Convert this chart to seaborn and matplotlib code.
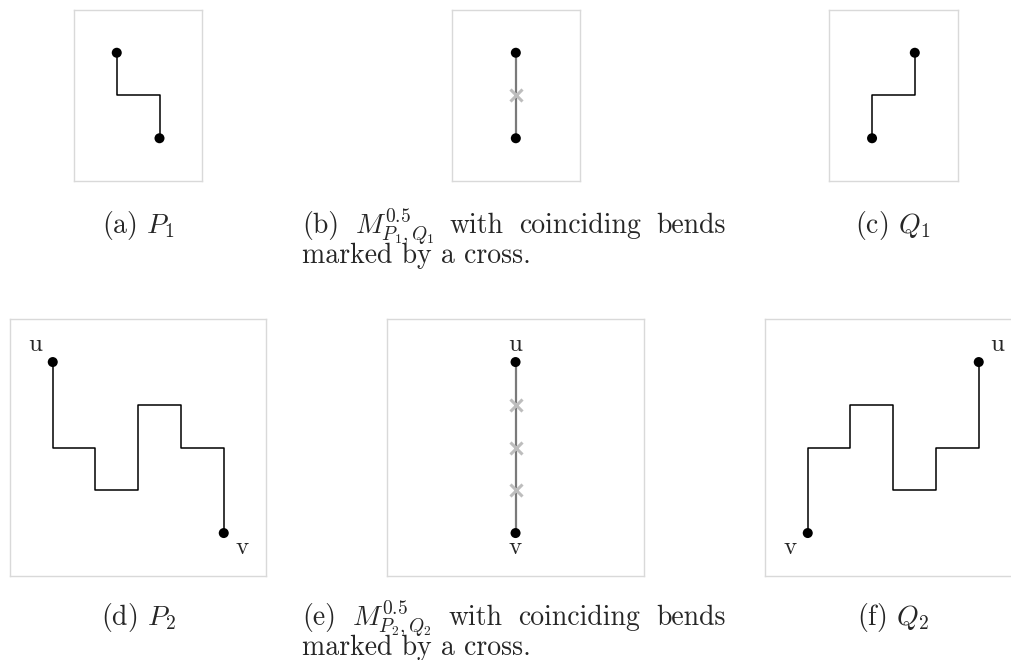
import matplotlib
matplotlib.use("Agg")
import matplotlib.pyplot as plt
import seaborn as sns

# ---------------- data ----------------
p1_x = [1, 1, 2, 2]
p1_y = [3, 2, 2, 1]
m1_x = [1.5, 1.5]
m1_y = [3, 1]
m1_cross_x = [1.5]
m1_cross_y = [2]
q1_x = [1, 1, 2, 2]
q1_y = [1, 2, 2, 3]

p2_x = [1, 1, 2, 2, 3, 3, 4, 4, 5, 5]
p2_y = [5, 3, 3, 2, 2, 4, 4, 3, 3, 1]
m2_x = [3, 3]
m2_y = [5, 1]
m2_cross_x = [3, 3, 3]
m2_cross_y = [4, 3, 2]
q2_x = [1, 1, 2, 2, 3, 3, 4, 4, 5, 5]
q2_y = [1, 3, 3, 4, 4, 2, 2, 3, 3, 5]

cap_a = r"(a) $P_1$"
cap_c = r"(c) $Q_1$"
cap_d = r"(d) $P_2$"
cap_f = r"(f) $Q_2$"
cap_b = ["(b)", r"$M^{0.5}_{P_1,Q_1}$", "with", "coinciding", "bends", "marked by a cross."]
cap_e = ["(e)", r"$M^{0.5}_{P_2,Q_2}$", "with", "coinciding", "bends", "marked by a cross."]

# ---------------- style ----------------
sns.set_theme(style="white")
plt.rcParams['font.family'] = ['cmr10', 'DejaVu Serif']
plt.rcParams['mathtext.fontset'] = 'cm'
plt.rcParams['axes.unicode_minus'] = False

W, H = 1012, 660
fig = plt.figure(figsize=(W / 100, H / 100), dpi=100)
fig.patch.set_facecolor('white')
R = fig.canvas.get_renderer()

U = 42.75  # pixels per grid unit


def add_box(left, top, nx, ny):
    ax = fig.add_axes([left / W, 1 - (top + ny * U) / H, nx * U / W, ny * U / H])
    ax.set_xticks([])
    ax.set_yticks([])
    for s in ax.spines.values():
        s.set_color('#d9d9d9')
        s.set_linewidth(1.0)
    ax.set_facecolor('white')
    return ax


def finish(ax, nx, ny):
    ax.set_xlim(0, nx)
    ax.set_ylim(0, ny)
    ax.set_xlabel("")
    ax.set_ylabel("")


def path(ax, xs, ys, color='black', lw=1.1):
    sns.lineplot(x=xs, y=ys, sort=False, estimator=None, color=color,
                 linewidth=lw, ax=ax, legend=False)


def dots(ax, xs, ys):
    sns.scatterplot(x=xs, y=ys, color='black', s=52, edgecolor='none',
                    ax=ax, legend=False, zorder=5)


def crosses(ax, xs, ys):
    sns.scatterplot(x=xs, y=ys, marker='x', color='#bdbdbd', s=75,
                    linewidth=2.2, ax=ax, legend=False, zorder=4)


LBL = 18

# (a)
ax = add_box(74, 10, 3, 4)
path(ax, p1_x, p1_y)
dots(ax, [p1_x[0], p1_x[-1]], [p1_y[0], p1_y[-1]])
finish(ax, 3, 4)

# (b)
ax = add_box(451.7, 10, 3, 4)
path(ax, m1_x, m1_y, color='#7a7a7a', lw=1.6)
crosses(ax, m1_cross_x, m1_cross_y)
dots(ax, [m1_x[0], m1_x[-1]], [m1_y[0], m1_y[-1]])
finish(ax, 3, 4)

# (c)
ax = add_box(829.3, 10, 3, 4)
path(ax, q1_x, q1_y)
dots(ax, [q1_x[0], q1_x[-1]], [q1_y[0], q1_y[-1]])
finish(ax, 3, 4)

# (d)
ax = add_box(10, 319.3, 6, 6)
path(ax, p2_x, p2_y)
dots(ax, [p2_x[0], p2_x[-1]], [p2_y[0], p2_y[-1]])
ax.text(p2_x[0] - 0.42, p2_y[0] + 0.4, "u", fontsize=LBL, ha='center', va='center')
ax.text(p2_x[-1] + 0.42, p2_y[-1] - 0.35, "v", fontsize=LBL, ha='center', va='center')
finish(ax, 6, 6)

# (e)
ax = add_box(387.3, 319.3, 6, 6)
path(ax, m2_x, m2_y, color='#7a7a7a', lw=1.6)
crosses(ax, m2_cross_x, m2_cross_y)
dots(ax, [m2_x[0], m2_x[-1]], [m2_y[0], m2_y[-1]])
ax.text(m2_x[0], m2_y[0] + 0.4, "u", fontsize=LBL, ha='center', va='center')
ax.text(m2_x[-1], m2_y[-1] - 0.35, "v", fontsize=LBL, ha='center', va='center')
finish(ax, 6, 6)

# (f)
ax = add_box(765, 319.3, 6, 6)
path(ax, q2_x, q2_y)
dots(ax, [q2_x[0], q2_x[-1]], [q2_y[0], q2_y[-1]])
ax.text(q2_x[-1] + 0.43, q2_y[-1] + 0.4, "u", fontsize=LBL, ha='center', va='center')
ax.text(q2_x[0] - 0.41, q2_y[0] - 0.35, "v", fontsize=LBL, ha='center', va='center')
finish(ax, 6, 6)

# ---------------- captions ----------------
CAP = 20


def ftext(x, y, s, size=CAP, **kw):
    kw.setdefault('va', 'baseline')
    return fig.text(x / W, 1 - y / H, s, fontsize=size, **kw)


def width(t):
    bb = t.get_window_extent(renderer=R)
    return bb.x1 - bb.x0


def long_caption(parts, y0, x0=302, x1=726, lead=30):
    texts = [ftext(0, y0, p) for p in parts[:5]]
    widths = [width(t) for t in texts]
    gap = (x1 - x0 - sum(widths)) / 4.0
    x = x0
    for t, w in zip(texts, widths):
        t.set_x(x / W)
        x += w + gap
    ftext(x0, y0 + lead, parts[5], ha='left')


ftext(138, 233, cap_a, ha='center')
ftext(893, 233, cap_c, ha='center')
ftext(138, 625, cap_d, ha='center')
ftext(893, 625, cap_f, ha='center')
long_caption(cap_b, 233)
long_caption(cap_e, 625)

fig.savefig("out.png", dpi=100, facecolor='white')
